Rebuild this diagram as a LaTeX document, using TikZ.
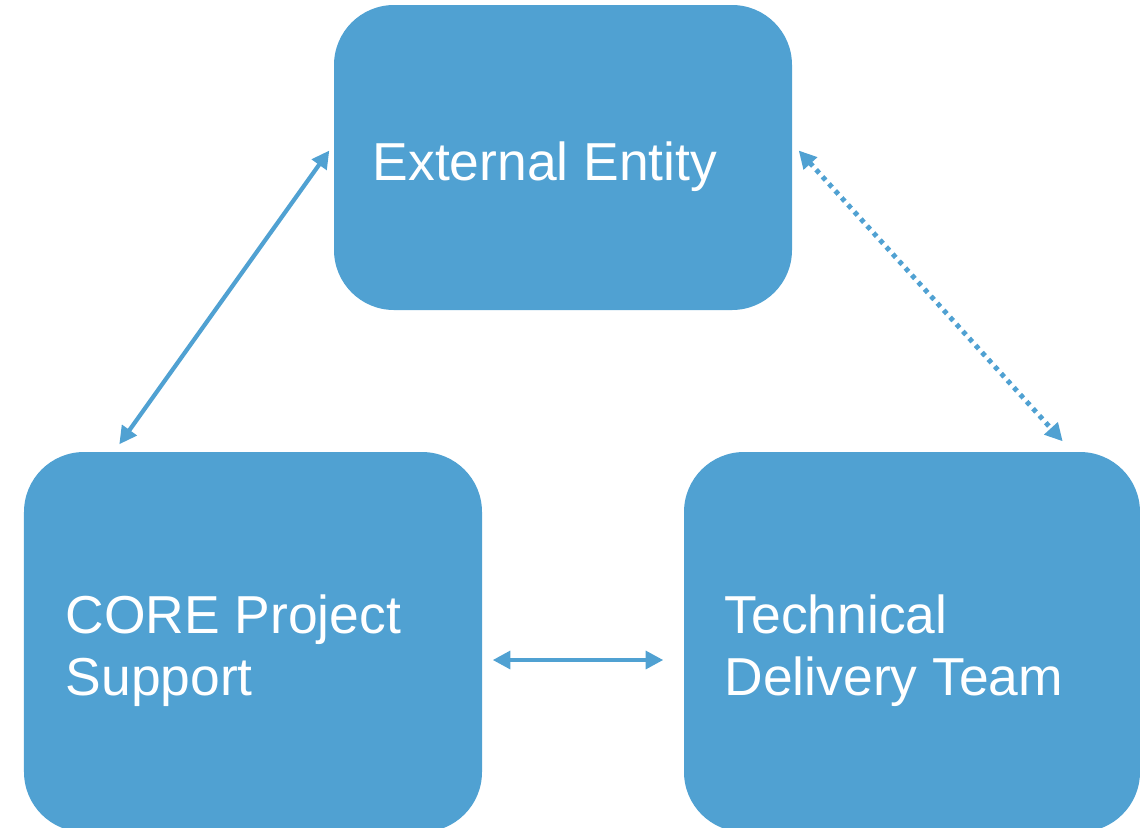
\documentclass[tikz,border=0pt]{standalone}
\usepackage{fontspec}
\setmainfont{Liberation Sans}
\usetikzlibrary{arrows.meta}
\definecolor{boxblue}{HTML}{50A1D2}

\tikzset{
  box/.style={fill=boxblue, rounded corners=0.6cm, inner sep=0pt},
  boxtext/.style={text=white, font=\fontsize{15.2}{17.6}\selectfont, align=left, anchor=base west, inner sep=0pt},
  link/.style={boxblue, line width=1.2pt, {Triangle[length=5pt,width=5pt]}-{Triangle[length=5pt,width=5pt]}},
}

\begin{document}
\begin{tikzpicture}
      \useasboundingbox (0,0) rectangle (11.4,8.27);
      % boxes
      \node[box, minimum width=4.58cm, minimum height=3.05cm] (ext)  at (5.63,6.695) {};
      \node[box, minimum width=4.58cm, minimum height=3.80cm] (core) at (2.53,1.85) {};
      \node[box, minimum width=4.56cm, minimum height=3.80cm] (tech) at (9.12,1.85) {};
      % texts
      \node[boxtext] (extlabel)  at (3.72,6.47) {External Entity};
      \node[boxtext] (corelabel) at (0.65,1.32) {CORE Project\\Support};
      \node[boxtext] (techlabel) at (7.24,1.32) {Technical\\Delivery Team};
      % end points
      \coordinate (e1) at ([shift={(-0.04,0.07)}]ext.west);
      \coordinate (e2) at ([shift={(0.06,0.07)}]ext.east);
      \coordinate (c1) at ([shift={(0.96,0.07)}]core.north west);
      \coordinate (c2) at ([xshift=0.10cm,yshift=-0.18cm]core.east);
      \coordinate (t1) at ([shift={(-0.78,0.10)}]tech.north east);
      \coordinate (t2) at ([xshift=-0.20cm,yshift=-0.18cm]tech.west);
      % links
      \draw[link] (e1) -- (c1);
      \draw[link, line width=1.4pt, dash pattern=on 1.3pt off 1.4pt] (e2) -- (t1);
      \draw[link] (c2) -- (t2);
    \end{tikzpicture}
\end{document}
